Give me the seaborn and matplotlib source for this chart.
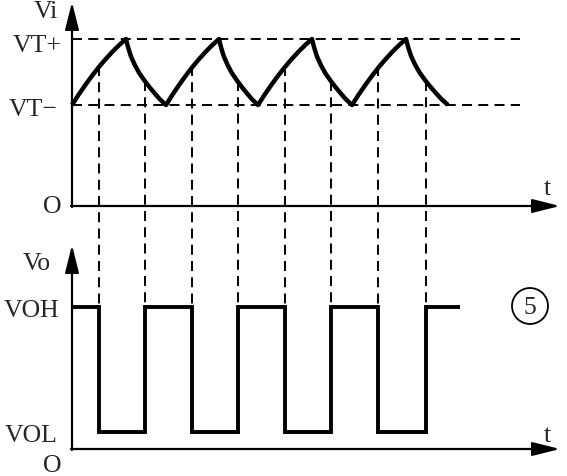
import matplotlib
matplotlib.use("Agg")
import matplotlib.pyplot as plt
import seaborn as sns
import numpy as np
import pandas as pd
from matplotlib.patches import Circle

sns.set_style("white")
plt.rcParams['font.family'] = ['Liberation Serif', 'DejaVu Serif']
plt.rcParams['lines.scale_dashes'] = False

# ---- data (schematic coordinates, y grows downward) ----
# times where Vi starts rising (at VT-) and where it peaks (at VT+)
trough_t = [72, 166, 258, 352]
peak_t = [126, 219, 312, 406]
end_t = 448
# shape of a charging edge: fraction of the edge's duration -> Vi level
rise_frac = [0.0, 0.125, 0.25, 0.375, 0.5, 0.625, 0.75, 0.875, 1.0]
rise_v = [106, 95.5, 85.7, 76.5, 67.9, 60.0, 52.7, 46.0, 40]
# shape of a discharging edge
fall_frac = [0.0, 0.05, 0.12, 0.22, 0.33, 0.47, 0.585, 0.71, 0.84, 1.0]
fall_v = [40, 48, 57, 66, 74, 82, 88, 94, 100, 106]

# switching instants of Vo and the Vi value there
switch_t = [99, 145, 192, 238, 285, 331, 378, 426]
switch_vi = [67, 82, 67, 82, 67, 82, 67, 82]

# levels
VT_plus, VT_minus, O_top = 40, 106, 207
VOH, VOL, O_bot = 308, 433, 450
t_start, t_end_vo, dash_end, axis_end = 72, 460, 520, 560

# ---- build polylines from the read values ----
vi_t, vi_v = [], []
fall_ends = trough_t[1:] + [end_t]
for a, b, c in zip(trough_t, peak_t, fall_ends):
    for f, v in zip(rise_frac, rise_v):
        vi_t.append(a + f * (b - a)); vi_v.append(v)
    for f, v in zip(fall_frac[1:], fall_v[1:]):
        vi_t.append(b + f * (c - b)); vi_v.append(v)

vo_t = [t_start]
vo_levels = [VOH]
lvl = VOH
for s in switch_t:
    vo_t.append(s); vo_levels.append(lvl)
    lvl = VOL if lvl == VOH else VOH
    vo_t.append(s); vo_levels.append(lvl)
vo_t.append(t_end_vo); vo_levels.append(lvl)

# ---- figure ----
fig = plt.figure(figsize=(5.67, 4.77), dpi=100)
ax = fig.add_axes([0, 0, 1, 1])

dash = (0, (7.2, 4.5))
dlw = 1.4

for lv in (VT_plus, VT_minus):
    ax.plot([t_start, dash_end], [lv, lv], color="black", lw=dlw, linestyle=dash)

for s, v in zip(switch_t, switch_vi):
    ax.plot([s, s], [v, VOH], color="black", lw=dlw, linestyle=dash)

def arrow(x0, y0, x1, y1):
    ax.annotate("", xy=(x1, y1), xytext=(x0, y0),
                arrowprops=dict(arrowstyle="-|>,head_length=1.2,head_width=0.3",
                                color="black", lw=1.6, shrinkA=0, shrinkB=0,
                                mutation_scale=14))

arrow(t_start, O_top + 1, t_start, 3)
arrow(t_start - 1, O_top, axis_end, O_top)
arrow(t_start, O_bot + 1, t_start, 246)
arrow(t_start - 1, O_bot, axis_end, O_bot)

df_vi = pd.DataFrame({"t": vi_t, "v": vi_v})
sns.lineplot(data=df_vi, x="t", y="v", sort=False, estimator=None, ax=ax,
             color="black", lw=3.2, solid_joinstyle="round", solid_capstyle="butt")
df_vo = pd.DataFrame({"t": vo_t, "v": vo_levels})
sns.lineplot(data=df_vo, x="t", y="v", sort=False, estimator=None, ax=ax,
             color="black", lw=2.8, solid_joinstyle="miter", solid_capstyle="butt")
ax.set_xlim(0, 567)
ax.set_ylim(477, 0)
ax.axis("off")

fs = 18.5
ax.text(58, 18, "Vi", ha="right", va="baseline", fontsize=fs)
ax.text(62, 52, "VT+", ha="right", va="baseline", fontsize=fs)
ax.text(58, 116, "VT\u2212", ha="right", va="baseline", fontsize=fs)
ax.text(62, 213, "O", ha="right", va="baseline", fontsize=fs)
ax.text(547, 195, "t", ha="center", va="baseline", fontsize=fs)
ax.text(51, 270, "Vo", ha="right", va="baseline", fontsize=fs)
ax.text(59, 317, "VOH", ha="right", va="baseline", fontsize=fs)
ax.text(58, 442, "VOL", ha="right", va="baseline", fontsize=fs)
ax.text(62, 472, "O", ha="right", va="baseline", fontsize=fs)
ax.text(547, 442, "t", ha="center", va="baseline", fontsize=fs)

ax.add_patch(Circle((530, 307), 18, fill=False, lw=1.3, color="black"))
ax.text(530, 308, "5", ha="center", va="center", fontsize=fs)

fig.savefig("out.png", dpi=100)
